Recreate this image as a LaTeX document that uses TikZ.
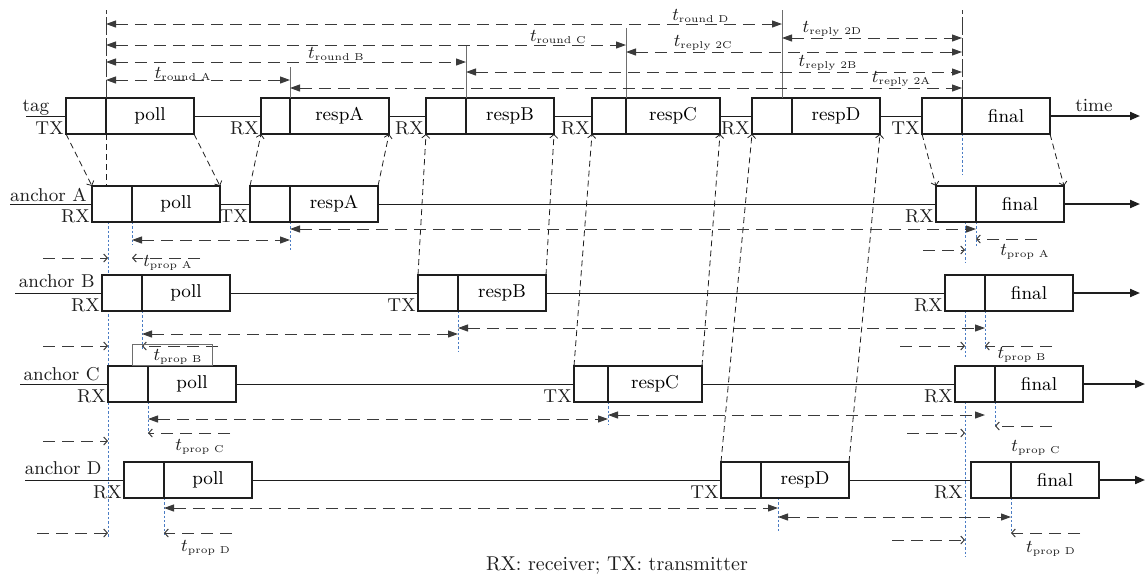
\documentclass[tikz,border=0pt]{standalone}
\usepackage{amsmath}
\usepackage{tikz}
\usetikzlibrary{arrows.meta, positioning, backgrounds}
\definecolor{TLink}{HTML}{1E1E1E}
\definecolor{TLgray}{HTML}{3A3A3A}
\definecolor{TLtick}{HTML}{6E6E6E}
\definecolor{TLblue}{HTML}{4A7CC4}
\newcommand{\tlab}[1]{$t_{\text{\tiny #1}}$}
\tikzset{
  pre/.style={
    rectangle, draw=TLink, line width=0.85pt, fill=white,
    minimum width=20pt, minimum height=18pt, inner sep=0pt, outer sep=0pt,
    anchor=west},
  pay/.style={pre, minimum width=44pt},
  tline/.style={draw=TLink, line width=0.45pt},
  tarr/.style={-{Triangle[length=5pt,width=4pt]}, draw=TLink, line width=1pt},
  prop/.style={draw=TLink, line width=0.4pt, dash pattern=on 3pt off 2pt,
    -{Straight Barb[length=1.8pt,width=4pt]}},
  dimln/.style={draw=TLgray, line width=0.5pt, dash pattern=on 6pt off 3.5pt},
  dim/.style={dimln, {Triangle[length=5pt,width=3.5pt]}-{Triangle[length=5pt,width=3.5pt]}},
  dimo/.style={dimln, -{Straight Barb[length=1.8pt,width=4pt]}},
  guide/.style={draw=TLblue, line width=0.5pt, dash pattern=on 1.2pt off 1pt},
  vtick/.style={draw=TLtick, line width=0.45pt},
  vdash/.style={vtick, draw=TLgray, dash pattern=on 9pt off 1.5pt},
  lbl/.style={inner sep=1pt, text=TLink},
  tlbl/.style={inner sep=0.5pt, text=TLink},
}

\begin{document}
\begin{tikzpicture}[x=0.5pt, y=-0.5pt, font=\fontsize{9.3}{11}\selectfont]
  \useasboundingbox (0,0) rectangle (1146,580);
  %% Tag row
  \node[pre] (tpollP) at (66,116) {};
  \node[pay, right=0pt of tpollP] (tpoll) {poll};
  \node[pre, minimum width=14.5pt] (trespAP) at (261,116) {};
  \node[pay, minimum width=49.5pt, right=0pt of trespAP] (trespA) {respA};
  \node[pre] (trespBP) at (426,116) {};
  \node[pay, right=0pt of trespBP] (trespB) {respB};
  \node[pre, minimum width=17pt] (trespCP) at (592,116) {};
  \node[pay, minimum width=47pt, right=0pt of trespCP] (trespC) {respC};
  \node[pre] (trespDP) at (752,116) {};
  \node[pay, right=0pt of trespDP] (trespD) {respD};
  \node[pre] (tfinalP) at (922,116) {};
  \node[pay, right=0pt of tfinalP] (tfinal) {final};
  %% Anchor rows
  \node[pre] (apollP) at (92,204) {};
  \node[pay, right=0pt of apollP] (apoll) {poll};
  \node[pre] (arespAP) at (250,204) {};
  \node[pay, right=0pt of arespAP] (arespA) {respA};
  \node[pre] (afinalP) at (936,204) {};
  \node[pay, right=0pt of afinalP] (afinal) {final};
  \node[pre] (bpollP) at (102,293) {};
  \node[pay, right=0pt of bpollP] (bpoll) {poll};
  \node[pre] (brespBP) at (418,293) {};
  \node[pay, right=0pt of brespBP] (brespB) {respB};
  \node[pre] (bfinalP) at (945,293) {};
  \node[pay, right=0pt of bfinalP] (bfinal) {final};
  \node[pre] (cpollP) at (108,384) {};
  \node[pay, right=0pt of cpollP] (cpoll) {poll};
  \node[pre, minimum width=17pt] (crespCP) at (574,384) {};
  \node[pay, minimum width=47pt, right=0pt of crespCP] (crespC) {respC};
  \node[pre] (cfinalP) at (955,384) {};
  \node[pay, right=0pt of cfinalP] (cfinal) {final};
  \node[pre] (dpollP) at (124,480) {};
  \node[pay, right=0pt of dpollP] (dpoll) {poll};
  \node[pre] (drespDP) at (721,480) {};
  \node[pay, right=0pt of drespDP] (drespD) {respD};
  \node[pre] (dfinalP) at (971,480) {};
  \node[pay, right=0pt of dfinalP] (dfinal) {final};

  %% Time lines
  \coordinate (tS) at (26,116);  \coordinate (tE) at (1140,116);
  \coordinate (aS) at (10,204);  \coordinate (aE) at (1140,204);
  \coordinate (bS) at (15,293);  \coordinate (bE) at (1140,293);
  \coordinate (cS) at (20,384);  \coordinate (cE) at (1145,384);
  \coordinate (dS) at (25,480);  \coordinate (dE) at (1145,480);
  \draw[tline] (tS) -- (tpollP) (tpoll) -- (trespAP) (trespA) -- (trespBP)
    (trespB) -- (trespCP) (trespC) -- (trespDP) (trespD) -- (tfinalP);
  \draw[tline] (aS) -- (apollP) (apoll) -- (arespAP) (arespA) -- (afinalP);
  \draw[tline] (bS) -- (bpollP) (bpoll) -- (brespBP) (brespB) -- (bfinalP);
  \draw[tline] (cS) -- (cpollP) (cpoll) -- (crespCP) (crespC) -- (cfinalP);
  \draw[tline] (dS) -- (dpollP) (dpoll) -- (drespDP) (drespD) -- (dfinalP);
  \draw[tarr] (tfinal) -- (tE);
  \draw[tarr] (afinal) -- (aE);
  \draw[tarr] (bfinal) -- (bE);
  \draw[tarr] (cfinal) -- (cE);
  \draw[tarr] (dfinal) -- (dE);
  \node[lbl, anchor=base] (timel) at (1094,111) {time};

  %% Row labels
  \node[lbl, anchor=base] (tagl) at (36,111) {tag};
  \node[lbl, anchor=base east] (ancA) at (89,201) {anchor A};
  \node[lbl, anchor=base east] (ancB) at (97,287) {anchor B};
  \node[lbl, anchor=base east] (ancC) at (102,380) {anchor C};
  \node[lbl, anchor=base east] (ancD) at (104,474) {anchor D};
  \node[lbl, anchor=base east] (tTX1) at (tpollP.south west) {TX};
  \node[lbl, anchor=base east] (tRX1) at (trespAP.south west) {RX};
  \node[lbl, anchor=base east] (tRX2) at (trespBP.south west) {RX};
  \node[lbl, anchor=base east] (tRX3) at (trespCP.south west) {RX};
  \node[lbl, anchor=base east] (tRX4) at (trespDP.south west) {RX};
  \node[lbl, anchor=base east] (tTX2) at (tfinalP.south west) {TX};
  \node[lbl, anchor=base east] (aRX1) at (apollP.south west) {RX};
  \node[lbl, anchor=base east] (aTX1) at (arespAP.south west) {TX};
  \node[lbl, anchor=base east] (aRX2) at (afinalP.south west) {RX};
  \node[lbl, anchor=base east] (bRX1) at (bpollP.south west) {RX};
  \node[lbl, anchor=base east] (bTX1) at (brespBP.south west) {TX};
  \node[lbl, anchor=base east] (bRX2) at (bfinalP.south west) {RX};
  \node[lbl, anchor=base east] (cRX1) at (cpollP.south west) {RX};
  \node[lbl, anchor=base east] (cTX1) at (crespCP.south west) {TX};
  \node[lbl, anchor=base east] (cRX2) at (cfinalP.south west) {RX};
  \node[lbl, anchor=base east] (dRX1) at (dpollP.south west) {RX};
  \node[lbl, anchor=base east] (dTX1) at (drespDP.south west) {TX};
  \node[lbl, anchor=base east, xshift=-3pt] (dRX2) at (dfinalP.south west) {RX};

  %% Propagation
  \draw[prop] (tpollP.south west) -- (apollP.north west);
  \draw[prop] (tpoll.south east) -- (apoll.north east);
  \draw[prop, -] (tpoll.south west) -- (tpoll.south west |- apoll.north);
  \draw[prop] (arespAP.north west) -- (trespAP.south west);
  \draw[prop] (arespA.north east) -- (trespA.south east);
  \draw[prop] (brespBP.north west) -- (trespBP.south west);
  \draw[prop] (brespB.north east) -- (trespB.south east);
  \draw[prop] (crespCP.north west) -- (trespCP.south west);
  \draw[prop] (crespC.north east) -- (trespC.south east);
  \draw[prop] (drespDP.north west) -- (trespDP.south west);
  \draw[prop] (drespD.north east) -- (trespD.south east);
  \draw[prop] (tfinalP.south west) -- (afinalP.north west);
  \draw[prop] (tfinal.south east) -- (afinal.north east);

  %% Round and reply times on the tag
  \coordinate (ytop) at (0,10);
  \coordinate (kD) at (782,98);
  \coordinate (yRndD) at (0,24);  \coordinate (yRplD) at (0,38);
  \coordinate (yRndC) at (0,45);  \coordinate (yRplC) at (0,52);
  \coordinate (yRndB) at (0,62);  \coordinate (yRplB) at (0,72);
  \coordinate (yRndA) at (0,80);  \coordinate (yRplA) at (0,88);
  \draw[vdash] (tpoll.north west) -- (tpoll.north west |- ytop);
  \draw[vtick] (trespA.north west) -- ++(0,-31);
  \draw[vtick] (trespB.north west) -- ++(0,-53);
  \draw[vtick] (trespC.north west) -- ++(0,-70);
  \draw[vtick] (kD) -- (kD |- ytop);
  \draw[vdash] (tfinal.north west) -- (tfinal.north west |- ytop);
  \draw[dim] (tpoll.west |- yRndD) -- (kD |- yRndD)
    node[tlbl, pos=0.88, above] {\tlab{round D}};
  \draw[dim] (kD |- yRplD) -- (tfinal.west |- yRplD)
    node[tlbl, pos=0.28, above] {\tlab{reply 2D}};
  \draw[dim] (tpoll.west |- yRndC) -- (trespC.west |- yRndC)
    node[tlbl, pos=0.87, above] {\tlab{round C}};
  \draw[dim] (trespC.west |- yRplC) -- (tfinal.west |- yRplC)
    node[tlbl, pos=0.23, above] {\tlab{reply 2C}};
  \draw[dim] (tpoll.west |- yRndB) -- (trespB.west |- yRndB)
    node[tlbl, pos=0.64, above] {\tlab{round B}};
  \draw[dim] (trespB.west |- yRplB) -- (tfinal.west |- yRplB)
    node[tlbl, pos=0.73, above] {\tlab{reply 2B}};
  \draw[dim] (tpoll.west |- yRndA) -- (trespA.west |- yRndA)
    node[tlbl, pos=0.42, above=-1pt] {\tlab{round A}};
  \draw[dim] (trespA.west |- yRplA) -- (tfinal.west |- yRplA)
    node[tlbl, pos=0.91, above] {\tlab{reply 2A}};

  %% Guide lines
  \coordinate (gL) at (108,222);
  \coordinate (gLe) at (108,538);
  \coordinate (gR) at (965,0);
  \coordinate (gD) at (778,498);
  \begin{scope}[on background layer]
    \draw[guide] (gL) -- (gLe);
    \draw[guide] (tfinal.south west) -- ++(0,41);
    \draw[guide] (afinalP.south west -| gR) -- ++(0,41);
    \draw[guide] (bfinalP.south west -| gR) -- ++(0,46);
    \draw[guide] (cfinalP.south west -| gR) -- ++(0,155);
    \draw[guide] (apoll.south west) -- ++(0,23);
    \draw[guide] (arespA.south west) -- ++(0,28);
    \draw[guide] (afinal.south west) -- ++(0,25);
    \draw[guide] (bpoll.south west) -- ++(0,39);
    \draw[guide] (brespB.south west) -- ++(0,41);
    \draw[guide] (bfinal.south west) -- ++(0,39);
    \draw[guide] (cpoll.south west) -- ++(0,31);
    \draw[guide] (crespC.south west) -- ++(0,23);
    \draw[guide] (cfinal.south west) -- ++(0,26);
    \draw[guide] (dpoll.south west) -- ++(0,37);
    \draw[guide] (gD) -- ++(0,35);
    \draw[guide] (dfinal.south west) -- ++(0,35);
  \end{scope}

  %% Anchor A spans
  \coordinate (aw1) at (0,240);  \coordinate (aw2) at (0,229);
  \coordinate (aPl) at (43,258); \coordinate (aPt) at (200,258);
  \coordinate (aRl) at (923,250); \coordinate (aRt) at (1037,239);
  \draw[dim] (apoll.west |- aw1) -- (arespA.west |- aw1);
  \draw[dim] (arespA.west |- aw2) -- (afinal.west |- aw2);
  \draw[dimo] (aPl) -- (gL |- aPl);
  \draw[dimo] (aPt) -- (apoll.west |- aPt);
  \draw[dimo] (aRl) -- (gR |- aRl);
  \draw[dimo] (aRt) -- (afinal.west |- aRt);
  \node[tlbl] (propAl) at (168,263) {\tlab{prop A}};
  \node[tlbl] (propAr) at (1025,252) {\tlab{prop A}};

  %% Anchor B spans
  \coordinate (bw1) at (0,334);  \coordinate (bw2) at (0,328);
  \coordinate (bPl) at (43,346); \coordinate (bPt) at (218,346);
  \coordinate (bRl) at (900,346); \coordinate (bRt) at (1052,346);
  \draw[dim] (bpoll.west |- bw1) -- (brespB.west |- bw1);
  \draw[dim] (brespB.west |- bw2) -- (bfinal.west |- bw2);
  \draw[dimo] (bPl) -- (gL |- bPl);
  \draw[dimo] (bPt) -- (bpoll.west |- bPt);
  \draw[dimo] (bRl) -- (gR |- bRl);
  \draw[dimo] (bRt) -- (bfinal.west |- bRt);
  \node[draw=TLtick, line width=0.4pt, minimum width=40pt, minimum height=10.5pt,
        inner sep=0pt] (propBbox) at (172,354.5) {};
  \node[tlbl] (propBl) at (178,357) {\tlab{prop B}};
  \node[tlbl] (propBr) at (1022,355) {\tlab{prop B}};

  %% Anchor C spans
  \coordinate (cw1) at (0,419);  \coordinate (cw2) at (0,415);
  \coordinate (cPl) at (43,441); \coordinate (cPt) at (230,433);
  \coordinate (cRl) at (907,433); \coordinate (cRt) at (1052,426);
  \draw[dim] (cpoll.west |- cw1) -- (crespC.west |- cw1);
  \draw[dim] (crespC.west |- cw2) -- (bfinal.west |- cw2);
  \draw[dimo] (cPl) -- (gL |- cPl);
  \draw[dimo] (cPt) -- (cpoll.west |- cPt);
  \draw[dimo] (cRl) -- (gR |- cRl);
  \draw[dimo] (cRt) -- (cfinal.west |- cRt);
  \node[tlbl] (propCl) at (200,447) {\tlab{prop C}};
  \node[tlbl] (propCr) at (1036,448) {\tlab{prop C}};

  %% Anchor D spans
  \coordinate (dw1) at (0,508);  \coordinate (dw2) at (0,517);
  \coordinate (dPl) at (37,533); \coordinate (dPt) at (232,533);
  \coordinate (dRl) at (892,540); \coordinate (dRt) at (1080,533);
  \draw[dim] (dpoll.west |- dw1) -- (gD |- dw1);
  \draw[dim] (gD |- dw2) -- (dfinal.west |- dw2);
  \draw[dimo] (dPl) -- (gL |- dPl);
  \draw[dimo] (dPt) -- (dpoll.west |- dPt);
  \draw[dimo] (dRl) -- (gR |- dRl);
  \draw[dimo] (dRt) -- (dfinal.west |- dRt);
  \node[tlbl] (propDl) at (206,548) {\tlab{prop D}};
  \node[tlbl] (propDr) at (1051,549) {\tlab{prop D}};

  \node[lbl, font=\fontsize{10}{12}\selectfont] (cap) at (617,566)
        {RX: receiver; TX: transmitter};
\end{tikzpicture}
\end{document}
